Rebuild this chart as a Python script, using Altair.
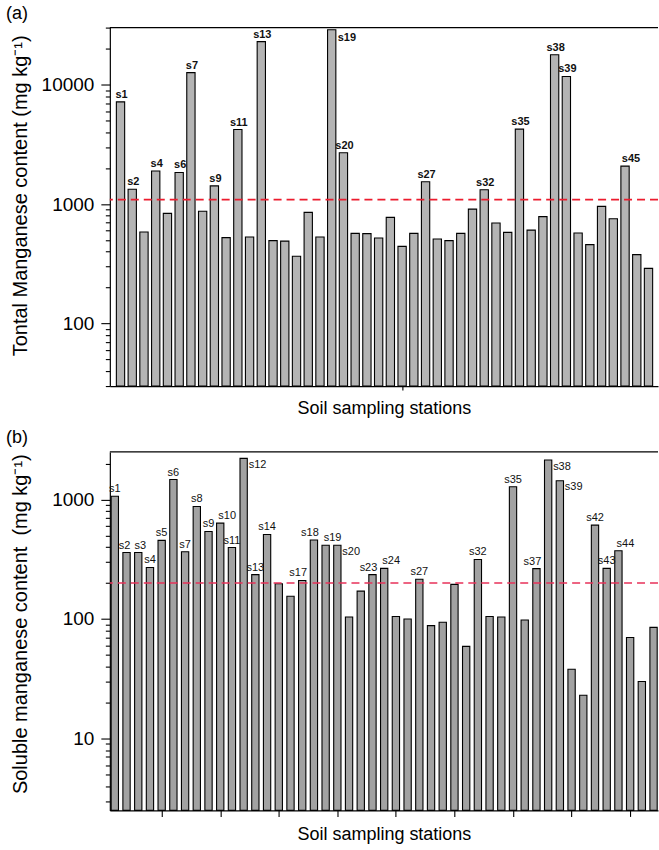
import altair as alt
import pandas as pd

# ---------------- data ----------------
# Panel (a): total manganese content (mg/kg), one bar per visible station
total_mn = [7170, 1330, 584, 1890, 836, 1840, 12600, 870, 1420, 524,
            4210, 530, 22900, 495, 490, 366, 852, 530, 28800, 2690,
            569, 566, 520, 774, 443, 569, 1540, 510, 495, 569,
            908, 1320, 694, 580, 4240, 606, 785, 17800, 11700, 573,
            458, 957, 755, 2080, 378, 290]
labels_a = ["s1", "s2", "", "s4", "", "s6", "s7", "", "s9", "",
            "s11", "", "s13", "", "", "", "", "", "s19", "s20",
            "", "", "", "", "", "", "s27", "", "", "",
            "", "s32", "", "", "s35", "", "", "s38", "s39", "",
            "", "", "", "s45", "", ""]
threshold_a = [1090]

# Panel (b): soluble manganese content (mg/kg)
soluble_mn = [1065, 360, 360, 270, 455, 1470, 365, 875, 540, 634,
              396, 2210, 235, 510, 197, 155, 210, 458, 414, 414,
              104, 171, 235, 265, 105, 100, 215, 88, 94, 195,
              59, 315, 105, 104, 1280, 98, 264, 2140, 1435, 38,
              23, 610, 265, 372, 70, 30, 85]
labels_b = ["s1", "s2", "s3", "s4", "s5", "s6", "s7", "s8", "s9", "s10",
            "s11", "s12", "s13", "s14", "", "", "s17", "s18", "s19", "s20",
            "", "", "s23", "s24", "", "", "s27", "", "", "",
            "", "s32", "", "", "s35", "", "s37", "s38", "s39", "",
            "", "s42", "s43", "s44", "", "", ""]
threshold_b = [200]

y_major_a = [100, 1000, 10000]
y_major_b = [10, 100, 1000]
x_ticks_a = [25]
x_ticks_b = [5, 10, 15, 20, 25, 30, 35, 40, 45]

FONT = "Liberation Sans"
W, H = 549, 359


def log_ticks(lo, hi):
    out = []
    d = 1
    while d <= hi:
        for m in range(1, 10):
            v = m * d
            if lo <= v <= hi:
                out.append(v)
        d *= 10
    return out


def in_list(names):
    return "[" + ",".join(f"'{s}'" for s in names) + "]"


def make_panel(values, labels, x_domain, y_domain, y_major, x_ticks, x_tick_size,
               threshold, tag, ytitle, title_y, bar_size, fill, line_color,
               label_weight, label_size, label_groups):
    df = pd.DataFrame({"station": list(range(1, len(values) + 1)),
                       "value": values, "label": labels})
    test = " || ".join(f"datum.value == {v}" for v in y_major)
    x_enc = alt.X("station:Q",
                  scale=alt.Scale(domain=x_domain, nice=False, zero=False, padding=0),
                  axis=alt.Axis(values=x_ticks, labels=False, tickSize=x_tick_size,
                                title="Soil sampling stations", titleFontSize=18,
                                titlePadding=9, grid=False))
    y_enc = alt.Y("value:Q",
                  scale=alt.Scale(type="log", domain=y_domain, nice=False),
                  axis=alt.Axis(values=log_ticks(*y_domain),
                                labelExpr=f"({test}) ? format(datum.value, 'd') : ''",
                                tickSize={"condition": {"test": test, "value": 9},
                                          "value": 4.5},
                                labelPadding=7, labelFontSize=19,
                                title=ytitle, titleFontSize=20,
                                titleX=-83, titleY=title_y,
                                titleBaseline="alphabetic", grid=False))
    bars = alt.Chart(df).mark_bar(size=bar_size, fill=fill, stroke="black",
                                  strokeWidth=1.1).encode(
        x=x_enc, y=y_enc, y2=alt.datum(y_domain[0]))
    line = alt.Chart(pd.DataFrame({"t": threshold})).mark_rule(
        color=line_color, strokeWidth=1.6, strokeDash=[8, 5]).encode(
        y=alt.datum(threshold[0]))
    layers = [bars, line]
    # label placement groups: (names or None for "all others", align, dx, dy)
    named = [n for g in label_groups if g[0] is not None for n in g[0]]
    for names, align, dx, dy in label_groups:
        if names is None:
            flt = f"datum.label != '' && indexof({in_list(named)}, datum.label) < 0"
        else:
            flt = f"indexof({in_list(names)}, datum.label) >= 0"
        layers.append(
            alt.Chart(df).transform_filter(flt).mark_text(
                baseline="alphabetic", align=align, dx=dx, dy=dy,
                fontSize=label_size, fontWeight=label_weight, font=FONT,
                color="#111").encode(x=x_enc, y=y_enc, text="label:N"))
    frame = alt.Chart(pd.DataFrame({"k": [0]})).mark_rule(
        color="black", strokeWidth=1.2).encode(y=alt.value(0))
    tag_t = alt.Chart(pd.DataFrame({"k": [0]})).mark_text(
        align="left", baseline="middle", fontSize=18, font=FONT, color="black").encode(
        x=alt.value(-104), y=alt.value(-14), text=alt.value(tag))
    layers += [frame, tag_t]
    return alt.layer(*layers).properties(width=W, height=H)


groups_a = [
    (None, "center", 1, -4),
    (["s45"], "center", 6, -4),
    (["s19"], "left", 6, 11),
]
groups_b = [
    (None, "center", 0, -4),
    (["s10", "s19", "s24", "s44"], "center", 7, -4),
    (["s18", "s23", "s37", "s17"], "center", -4, -4),
    (["s2"], "center", -2, -4),
    (["s3"], "center", 2, -4),
    (["s12", "s20", "s38", "s39"], "left", 5, 9.5),
]

panel_a = make_panel(total_mn, labels_a, [0.09, 46.81], [30, 30000], y_major_a,
                     x_ticks_a, 4, threshold_a, "(a)",
                     "Tontal Manganese content (mg kg\u207b\u00b9)", 168,
                     8.3, "#b4b4b4", "#ec1c2e", "bold", 11, groups_a)
panel_b = make_panel(soluble_mn, labels_b, [0.574, 47.38], [2.5, 2500], y_major_b,
                     x_ticks_b, 6, threshold_b, "(b)",
                     "Soluble manganese content\u00a0 (mg kg\u207b\u00b9)", 172,
                     7.3, "#a2a2a2", "#e8325a", "normal", 11, groups_b)

chart = alt.vconcat(panel_a, panel_b, spacing=11).properties(
    padding={"left": 6, "top": 4, "right": 0, "bottom": 0}
).configure(font=FONT).configure_view(strokeWidth=0).configure_axis(
    labelFont=FONT, titleFont=FONT, titleFontWeight="normal",
    labelColor="black", titleColor="black", domainColor="black",
    tickColor="black", domainWidth=1.2, tickWidth=1.1)

chart.save("out.html", embed_options={"renderer": "svg", "actions": False})
